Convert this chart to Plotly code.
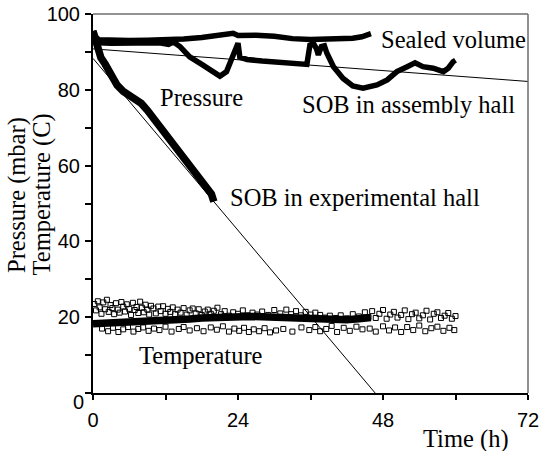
import plotly.graph_objects as go

# ---- data ----
sealed_t = [0.0, 0.4, 1.0, 3.0, 6.0, 9.0, 12.0, 15.0, 18.0, 20.0, 22.0, 23.2, 24.0, 27.0, 30.0, 33.0, 36.0, 40.0, 43.0, 44.5, 46.0]
sealed_p = [95.5, 94.0, 93.2, 93.0, 93.0, 93.1, 93.2, 93.4, 93.8, 94.2, 94.3, 94.9, 94.3, 94.4, 94.1, 93.5, 93.3, 93.3, 93.6, 94.0, 94.8]

assembly_t = [0.0, 1.0, 3.0, 6.0, 9.0, 11.0, 12.5, 13.3, 14.4, 16.0, 18.2, 19.9, 21.0, 22.1, 23.2, 24.0, 24.3, 25.5, 28.0, 30.0, 32.0, 35.4,
              35.9, 36.5, 37.0, 37.3, 37.8, 38.3, 38.7, 39.8, 41.4, 43.0, 44.7, 47.0, 48.7, 50.3, 52.0, 53.3, 54.6, 56.3, 58.0, 58.8, 59.6, 60.0]
assembly_p = [93.5, 92.4, 92.3, 92.4, 92.5, 92.4, 92.0, 92.6, 91.4, 88.7, 86.5, 84.8, 83.6, 84.8, 89.7, 92.3, 88.6, 88.0, 87.6, 87.3, 86.9, 86.7,
              91.8, 92.2, 90.8, 89.2, 91.4, 91.6, 89.7, 86.1, 83.0, 81.0, 80.4, 81.3, 82.6, 84.8, 86.1, 87.1, 86.1, 85.7, 84.8, 85.7, 87.4, 87.8]

exp_t = [0.0, 0.3, 0.7, 1.3, 2.0, 3.0, 4.0, 5.0, 6.0, 7.0, 8.0, 9.0, 10.0, 11.0, 12.0, 13.0, 14.0, 15.0, 16.0, 17.0, 18.0, 19.0, 19.6, 20.0]
exp_p = [95.5, 93.5, 90.8, 88.5, 86.8, 83.8, 81.2, 79.6, 78.6, 77.8, 76.4, 74.6, 72.5, 70.8, 69.0, 66.8, 64.5, 62.4, 60.3, 58.4, 56.2, 54.3, 52.5, 50.5]

fit_assembly_t = [0.0, 72.0]
fit_assembly_p = [90.8, 82.2]
fit_exp_t = [0.0, 46.7]
fit_exp_p = [88.3, 0.0]

temp_band_t = [0, 2, 4, 6, 8, 10, 12, 14, 16, 18, 20, 22, 24, 26, 28, 30, 32, 34, 36, 38, 40, 42, 44, 46]
temp_band_v = [18.3, 18.4, 18.6, 18.7, 18.8, 18.9, 19.0, 19.2, 19.5, 19.8, 20.0, 20.2, 20.3, 20.2, 20.1, 20.0, 19.8, 19.6, 19.4, 19.2, 19.1, 19.3, 19.6, 19.9]

temp_sq_hi_t = [0.2, 0.5, 0.8, 1.1, 1.4, 1.7, 2.0, 2.3, 2.6, 2.9, 3.2, 3.5, 3.8, 4.1, 4.4, 4.7, 5.0, 5.3, 5.6, 6.0, 6.3, 6.6, 6.9, 7.2, 7.5,
                7.8, 8.1, 8.4, 8.7, 9.0, 9.3, 9.6, 10.0, 10.4, 10.8, 11.2, 11.6, 12.0, 12.4, 12.8, 13.2, 13.6, 14.0, 14.5, 15.0, 15.5,
                16.0, 16.5, 17.0, 17.5, 18.0, 18.5, 19.0, 19.5, 20.0, 20.6, 21.2, 21.8, 22.5, 23.2, 24.0, 24.8, 25.6, 26.4, 27.2, 28.0,
                29.0, 30.0, 31.0, 32.0, 32.8, 33.6, 34.4, 35.2, 36.0, 36.8, 37.6, 38.4, 39.2, 40.2, 41.0, 42.0, 43.0, 44.0, 45.0, 45.6,
                46.2, 46.8, 47.4, 48.0, 48.6, 49.2, 49.8, 50.4, 51.0, 51.6, 52.2, 52.8, 53.4, 54.0, 54.6, 55.2, 55.8, 56.4, 57.0, 57.6,
                58.2, 58.8, 59.4, 60.0]
temp_sq_hi_v = [23.5, 21.8, 24.2, 22.6, 20.9, 23.9, 22.1, 24.6, 21.4, 23.2, 22.4, 20.8, 23.7, 22.0, 21.2, 24.0, 22.8, 21.5, 23.4, 22.2, 20.6, 23.8, 21.9, 22.7, 21.1,
                24.1, 22.5, 21.3, 23.3, 22.0, 20.7, 23.0, 22.3, 21.0, 22.8, 21.6, 22.9, 20.9, 22.2, 21.4, 22.6, 20.8, 22.0, 21.2, 22.4, 20.7,
                21.8, 22.3, 21.0, 22.1, 20.6, 21.5, 22.0, 20.9, 21.7, 22.5, 20.8, 21.6, 20.4, 21.3, 20.9, 21.8, 20.5, 21.2, 20.7, 21.5,
                20.6, 21.9, 21.0, 22.0, 20.8, 21.6, 20.5, 21.4, 20.7, 21.2, 20.6, 19.9, 20.4, 19.8, 20.5, 19.7, 20.8, 20.2, 21.3, 20.0,
                21.6, 19.8, 20.9, 21.9, 19.6, 20.7, 21.4, 19.9, 20.6, 21.8, 19.5, 20.8, 21.2, 19.7, 20.5, 21.7, 19.4, 20.9, 21.3, 19.8,
                20.4, 21.1, 19.6, 20.3]

temp_sq_lo_t = [1.5, 2.5, 3.3, 4.2, 5.0, 5.8, 6.7, 7.5, 8.3, 9.2, 10.1, 11.0, 12.0, 13.0, 14.2, 15.0, 16.0, 17.2, 18.3, 19.5, 20.5, 21.5,
                22.5, 23.4, 24.2, 25.0, 25.8, 26.6, 27.5, 28.4, 29.3, 30.3, 31.5, 33.0, 34.5, 35.8, 36.8, 37.6, 38.6, 39.5, 40.4, 41.5,
                42.5, 43.6, 44.6, 45.8, 46.8, 48.0, 49.0, 50.0, 51.0, 52.0, 53.0, 54.0, 55.0, 56.0, 57.0, 58.0, 59.0, 59.8]
temp_sq_lo_v = [17.0, 16.3, 17.2, 16.1, 16.8, 17.4, 16.2, 16.9, 17.3, 16.4, 17.0, 16.6, 17.5, 16.2, 16.9, 17.4, 16.5, 17.1, 16.3, 17.3, 16.7, 17.6,
                16.2, 17.0, 16.4, 17.2, 16.1, 16.8, 16.3, 17.1, 16.0, 16.5, 16.9, 16.2, 17.3, 16.6, 17.4, 16.3, 16.9, 17.7, 16.1, 17.2,
                16.4, 17.5, 16.8, 17.0, 16.2, 17.6, 16.5, 17.3, 16.1, 17.4, 16.6, 17.8, 16.3, 17.1, 17.5, 16.4, 17.2, 16.6]

x_tickvals = [0, 12, 24, 36, 48, 60, 72]
x_ticktext = ["0", "", "24", "", "48", "", "72"]
y_tickvals = [0, 10, 20, 30, 40, 50, 60, 70, 80, 90, 100]
y_ticktext = ["", "", "20", "", "40", "", "60", "", "80", "", "100"]

labels = [
    ("Sealed volume", 47.3, 93.2),
    ("Pressure", 10.8, 77.9),
    ("SOB in assembly hall", 34.3, 76.1),
    ("SOB in experimental hall", 22.3, 51.5),
    ("Temperature", 7.3, 10.0),
]

SERIF = "Liberation Serif, Times New Roman, serif"
SANS = "Liberation Sans, Arial, sans-serif"

# plot area in pixels (for placing text outside the axes)
L, R, T, B = 93, 528, 14, 393
def px_x(p):
    return (p - L) / (R - L)
def px_y(p):
    return (B - p) / (B - T)

fig = go.Figure()

sq_marker = dict(symbol="square-open", size=5, color="black", line=dict(width=1, color="black"))
fig.add_trace(go.Scatter(x=temp_sq_hi_t, y=temp_sq_hi_v, mode="markers", marker=sq_marker,
                         cliponaxis=False, showlegend=False))
fig.add_trace(go.Scatter(x=temp_sq_lo_t, y=temp_sq_lo_v, mode="markers", marker=sq_marker,
                         cliponaxis=False, showlegend=False))
fig.add_trace(go.Scatter(x=temp_band_t, y=temp_band_v, mode="lines",
                         line=dict(color="black", width=7.5), cliponaxis=False, showlegend=False))

fig.add_trace(go.Scatter(x=fit_assembly_t, y=fit_assembly_p, mode="lines",
                         line=dict(color="black", width=1), showlegend=False))
fig.add_trace(go.Scatter(x=fit_exp_t, y=fit_exp_p, mode="lines",
                         line=dict(color="black", width=1), showlegend=False))

fig.add_trace(go.Scatter(x=sealed_t, y=sealed_p, mode="lines",
                         line=dict(color="black", width=5.5), cliponaxis=False, showlegend=False))
fig.add_trace(go.Scatter(x=assembly_t, y=assembly_p, mode="lines",
                         line=dict(color="black", width=5.5), cliponaxis=False, showlegend=False))
fig.add_trace(go.Scatter(x=exp_t, y=exp_p, mode="lines",
                         line=dict(color="black", width=7.5), cliponaxis=False, showlegend=False))

annotations = []
for text, x, y in labels:
    annotations.append(dict(text=text, x=x, y=y, xref="x", yref="y", xanchor="left", yanchor="middle",
                            showarrow=False, font=dict(family=SERIF, size=24.5, color="black")))
annotations.append(dict(text="Time (h)", x=px_x(465.5), y=px_y(438.7), xref="paper", yref="paper",
                        xanchor="center", yanchor="middle",
                        showarrow=False, font=dict(family=SERIF, size=24.5, color="black")))
annotations.append(dict(text="Pressure (mbar)", x=px_x(17), y=px_y(195), xref="paper", yref="paper", textangle=-90,
                        xanchor="center", yanchor="middle", showarrow=False,
                        font=dict(family=SERIF, size=24.5, color="black")))
annotations.append(dict(text="Temperature (C)", x=px_x(41.5), y=px_y(195), xref="paper", yref="paper", textangle=-90,
                        xanchor="center", yanchor="middle", showarrow=False,
                        font=dict(family=SERIF, size=24.5, color="black")))
annotations.append(dict(text="0", x=px_x(86), y=px_y(402), xref="paper", yref="paper", xanchor="right", yanchor="middle",
                        showarrow=False, font=dict(family=SANS, size=20, color="black")))

fig.update_layout(
    width=545, height=451, autosize=False,
    margin=dict(l=L, r=545 - R, t=T, b=451 - B, pad=0),
    paper_bgcolor="white", plot_bgcolor="white",
    annotations=annotations,
    shapes=[
        dict(type="line", xref="paper", yref="paper", x0=0, x1=1, y0=1, y1=1, line=dict(color="#6e6e6e", width=1.5)),
        dict(type="line", xref="paper", yref="paper", x0=1, x1=1, y0=0, y1=1, line=dict(color="#6e6e6e", width=1.5)),
    ],
    xaxis=dict(range=[0, 72], tickvals=x_tickvals, ticktext=x_ticktext, ticks="outside", ticklen=5, tickwidth=2,
               tickcolor="black", showline=True, linewidth=2, linecolor="black", showgrid=False, zeroline=False,
               tickfont=dict(family=SANS, size=20, color="black"), ticklabelstandoff=3, automargin=False),
    yaxis=dict(range=[0, 100], tickvals=y_tickvals, ticktext=y_ticktext, ticks="outside", ticklen=6, tickwidth=2,
               tickcolor="black", showline=True, linewidth=2, linecolor="black", showgrid=False, zeroline=False,
               tickfont=dict(family=SANS, size=20, color="black"), ticklabelstandoff=1, automargin=False),
)

fig.write_html("out.html", config={"displayModeBar": False},
               post_script="document.body.style.margin='0';document.body.style.overflow='hidden';")
